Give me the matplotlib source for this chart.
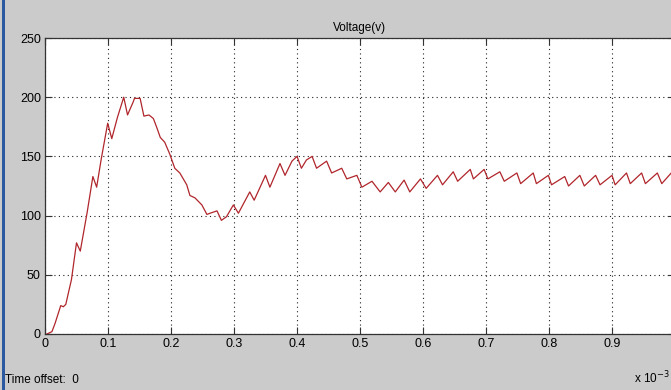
"""Scope-style voltage trace (MATLAB Simulink look)."""
import matplotlib
matplotlib.use("Agg")
import matplotlib.pyplot as plt
from matplotlib.patches import Rectangle

# time in units of 1e-3 s, voltage in V
t_ms = [0.003, 0.011, 0.016, 0.025, 0.029, 0.033, 0.042, 0.050, 0.056, 0.067,
        0.076, 0.082, 0.089, 0.0995, 0.106, 0.115, 0.125, 0.131, 0.140, 0.142,
        0.151, 0.157, 0.165, 0.172, 0.177, 0.183, 0.190, 0.198, 0.206, 0.214,
        0.225, 0.230, 0.238, 0.249, 0.257, 0.262, 0.273, 0.280, 0.288, 0.299,
        0.307, 0.325, 0.332, 0.350, 0.357, 0.373, 0.381, 0.392, 0.400, 0.407,
        0.415, 0.424, 0.431, 0.447, 0.455, 0.471, 0.479, 0.495, 0.503, 0.519,
        0.532, 0.545, 0.556, 0.570, 0.579, 0.596, 0.605, 0.623, 0.631, 0.648,
        0.655, 0.675, 0.680, 0.697, 0.703, 0.722, 0.729, 0.749, 0.755, 0.775,
        0.780, 0.799, 0.804, 0.825, 0.831, 0.849, 0.856, 0.874, 0.881, 0.900,
        0.905, 0.923, 0.929, 0.947, 0.953, 0.972, 0.979, 0.994]
volts = [0, 2, 9, 24, 23, 25, 46, 77, 70, 103,
         133, 124, 147, 178, 165, 183, 200, 185, 196, 199,
         199, 184, 185, 182, 175, 166, 162, 152, 140, 136,
         126, 117, 115, 109, 101, 102, 104, 96, 99, 109,
         102, 120, 113, 134, 124, 144, 134, 146, 150, 140,
         147, 150, 140, 146, 136, 140, 131, 134, 124, 129,
         120, 128, 120, 130, 120, 131, 123, 134, 126, 137,
         129, 139, 131, 139, 131, 137, 129, 136, 127, 136,
         127, 134, 126, 133, 125, 134, 125, 134, 126, 134,
         126, 136, 127, 136, 127, 136, 127, 136]

x_ticks = [0, 0.1, 0.2, 0.3, 0.4, 0.5, 0.6, 0.7, 0.8, 0.9]
x_tick_labels = ["0", "0.1", "0.2", "0.3", "0.4", "0.5", "0.6", "0.7", "0.8", "0.9"]
y_ticks = [0, 50, 100, 150, 200, 250]

FONT = ["Liberation Sans Narrow", "Liberation Sans", "DejaVu Sans"]
BG = "#cbcbcb"

fig = plt.figure(figsize=(6.71, 3.90), dpi=100, facecolor=BG)
ax = fig.add_axes([45 / 671, 56 / 390, 630 / 671, 296 / 390])
ax.set_facecolor("white")
ax.plot(t_ms, volts, color="#b0262c", lw=0.9)

ax.set_xlim(0, 1)
ax.set_ylim(0, 250)
ax.set_xticks(x_ticks)
ax.set_xticklabels(x_tick_labels)
ax.set_yticks(y_ticks)
ax.tick_params(direction="in", length=5, width=0.8, color="#333333",
               top=True, right=True, labelsize=9, pad=3)
for lab in ax.get_xticklabels() + ax.get_yticklabels():
    lab.set_family(FONT)
ax.grid(True, color="#222222", linestyle=(0, (1, 3)), lw=0.8)
for s in ax.spines.values():
    s.set_color("#333333")
    s.set_linewidth(0.9)

ax.set_title("Voltage(v)", fontsize=8.5, family=FONT, pad=5)

fig.text(5 / 671, 1 - 380 / 390, "Time offset:  0", fontsize=8.5, family=FONT,
         va="center", ha="left")
fig.text(634 / 671, 1 - 378 / 390, r"x 10$^{-3}$", fontsize=8.5, family=FONT,
         va="center", ha="left")

# blue window edge on the left
fig.add_artist(Rectangle((2 / 671, 0), 3 / 671, 1, transform=fig.transFigure,
                         color="#2b5aa0", lw=0))

fig.savefig("out.png", dpi=100, facecolor=BG)
